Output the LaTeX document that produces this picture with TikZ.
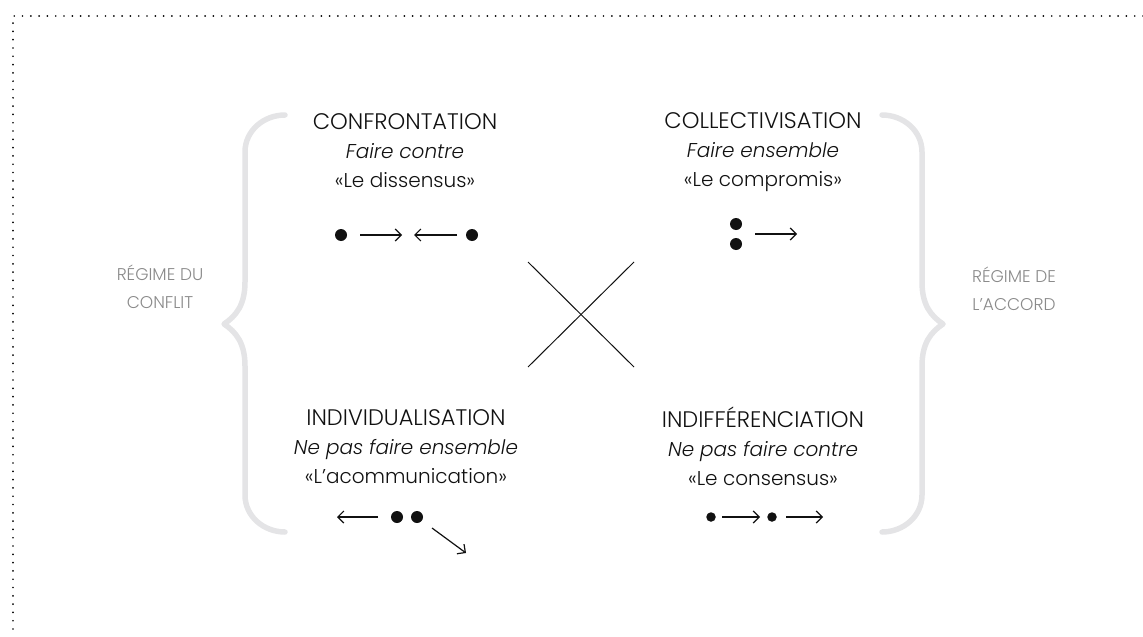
\documentclass[tikz,border=0pt]{standalone}
\usepackage{fontspec}
\setmainfont{Poppins}[UprightFont=* Light, ItalicFont=* Light Italic]
\usetikzlibrary{arrows.meta}
\definecolor{bracegray}{HTML}{E4E4E6}
\definecolor{labelgray}{HTML}{8A8A8A}
\definecolor{ink}{HTML}{111111}
\newcommand{\qtitle}[1]{{\fontsize{22.5}{29}\selectfont #1}}
\tikzset{
  brace/.style={draw=bracegray, line width=5.5pt, line cap=round, line join=round},
  border/.style={draw=black, line width=1.9pt, line cap=round, dash pattern=on 0pt off 8.3pt},
  quad/.style={align=center, text=ink, font=\fontsize{20}{29}\selectfont},
  side/.style={align=center, text=labelgray, font=\fontsize{17}{28}\selectfont},
  pt/.style={circle, fill=ink, inner sep=0pt, minimum size=12pt},
  smallpt/.style={circle, fill=ink, inner sep=0pt, minimum size=9.5pt},
  arr/.style={draw=ink, line width=1.2pt, -{Straight Barb[length=6pt,width=12pt]}},
  cross/.style={draw=ink, line width=1pt}
}
\begin{document}
\begin{tikzpicture}[x=1pt,y=-1pt]
\useasboundingbox (0,0) rectangle (1143,637);
% dotted frame
\coordinate (fr) at (1143,16);
\coordinate (fc) at (13,16);
\coordinate (fb) at (13,637);
\draw[border] (fr) -- (fc) -- (fb);
% braces
\draw[brace] (285,115) to[out=180,in=90] (245,152) -- (245,282)
  .. controls (245,305) and (236,316) .. (224,324)
  .. controls (236,332) and (245,343) .. (245,366) -- (245,495)
  to[out=-90,in=180] (285,532);
\draw[brace] (882,115) to[out=0,in=90] (922,152) -- (922,282)
  .. controls (922,305) and (931,316) .. (943,324)
  .. controls (931,332) and (922,343) .. (922,366) -- (922,495)
  to[out=-90,in=0] (882,532);
% side labels
\node[side] (conflit) at (160,287) {RÉGIME DU\\CONFLIT};
\node[side] (accord) at (1014,289) {RÉGIME DE\\L’ACCORD};
% quadrant texts
\node[quad] (confr) at (405,151) {\qtitle{CONFRONTATION}\\\textit{Faire contre}\\«Le dissensus»};
\node[quad] (coll) at (763,152) {\qtitle{COLLECTIVISATION}\\\textit{Faire ensemble}\\«Le compromis»};
\node[quad] (indiv) at (406,447) {\qtitle{INDIVIDUALISATION}\\\textit{Ne pas faire ensemble}\\«L’acommunication»};
\node[quad] (indif) at (763,446) {\qtitle{INDIFFÉRENCIATION}\\\textit{Ne pas faire contre}\\«Le consensus»};
% cross
\coordinate (xa) at (528,262);
\coordinate (xb) at (634,367);
\coordinate (xc) at (634,262);
\coordinate (xd) at (528,367);
\draw[cross] (xa) -- (xb);
\draw[cross] (xc) -- (xd);
% confrontation symbol
\node[pt] (c1) at (341,235) {};
\node[pt] (c2) at (472,235) {};
\coordinate (c1a) at (360,235);
\coordinate (c1b) at (402,235);
\coordinate (c2a) at (457,235);
\coordinate (c2b) at (414,235);
\draw[arr] (c1a) -- (c1b);
\draw[arr] (c2a) -- (c2b);
% collectivisation symbol
\node[pt] (k1) at (736,224) {};
\node[pt] (k2) at (736,244) {};
\coordinate (ka) at (755,234);
\coordinate (kb) at (797,234);
\draw[arr] (ka) -- (kb);
% individualisation symbol
\node[pt] (i1) at (397,517) {};
\node[pt] (i2) at (417,517) {};
\coordinate (ia) at (378,517);
\coordinate (ib) at (337,517);
\draw[arr] (ia) -- (ib);
\coordinate (id) at (466,553);
\draw[arr] (432,528) -- (id);
% indifferenciation symbol
\node[smallpt] (d1) at (711,517) {};
\node[smallpt] (d2) at (772,517) {};
\coordinate (da) at (722,517);
\coordinate (db) at (760,517);
\coordinate (dc) at (786,517);
\coordinate (dd) at (823,517);
\draw[arr] (da) -- (db);
\draw[arr] (dc) -- (dd);
\end{tikzpicture}
\end{document}
